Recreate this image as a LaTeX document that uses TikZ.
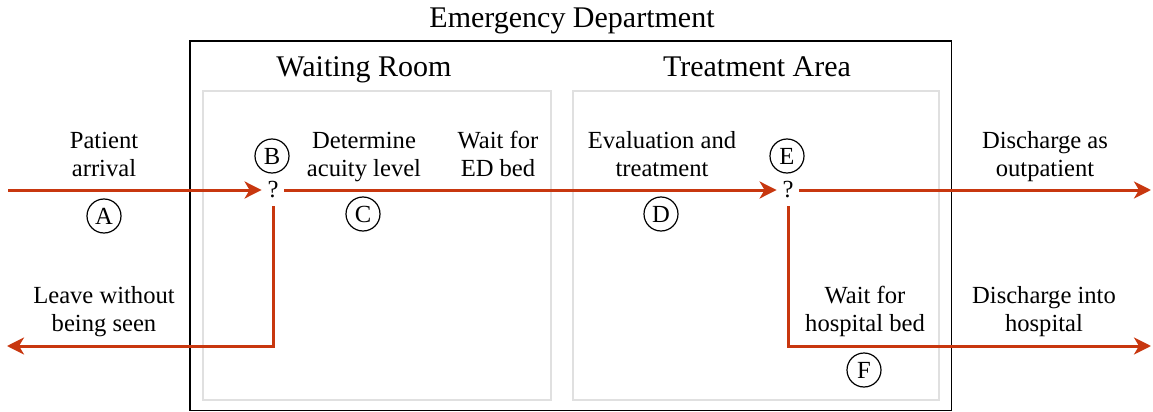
\documentclass[tikz,border=0pt]{standalone}
\usepackage{fontspec}
\setmainfont{Liberation Serif}
\usetikzlibrary{arrows.meta}
\definecolor{flowred}{RGB}{200,55,15}
\definecolor{roomgray}{RGB}{224,224,224}
\begin{document}
\begin{tikzpicture}[x=0.5pt,y=-0.5pt,
  flow/.style={draw=flowred, line width=1.5pt, -{Stealth[length=8.5pt,width=8.5pt,inset=2.5pt]}},
  lbl/.style={align=center, anchor=base, inner sep=0pt, font=\fontsize{12.3}{14}\selectfont},
  head/.style={anchor=base, inner sep=0pt, font=\fontsize{15}{18}\selectfont},
  circ/.style={draw, circle, line width=0.6pt, minimum size=17pt, inner sep=0pt, font=\fontsize{12.3}{14}\selectfont},
  decision/.style={inner sep=0pt, minimum width=11pt, minimum height=16pt, font=\fontsize{12.3}{14}\selectfont},
  outerbox/.style={draw=black, line width=0.8pt},
  roombox/.style={draw=roomgray, line width=1pt}
]
\useasboundingbox (0,0) rectangle (1153,412);

% boxes
\draw[outerbox] (190,41) rectangle (951.5,410.5);
\draw[roombox] (203,90.5) rectangle (550.5,400);
\draw[roombox] (572.5,90.5) rectangle (939,400);

% titles
\node[head] (title) at (572,27) {Emergency Department};
\node[head] (wroom) at (364,76.7) {Waiting Room};
\node[head] (tarea) at (757,76.7) {Treatment Area};

% decision points
\node[decision] (qB) at (273,190) {?};
\node[decision] (qE) at (788,190) {?};

% free ends
\coordinate (arrive) at (8,190);
\coordinate (leaveEnd) at (7,346);
\coordinate (outEnd) at (1151,190);
\coordinate (hospEnd) at (1151,346);

% flows
\draw[flow] (arrive) -- (qB.west);
\draw[flow] (qB.east) -- (qE.west);
\draw[flow] (qE.east) -- (outEnd);
\draw[flow] (qB.south) |- (leaveEnd);
\draw[flow] (qE.south) |- (hospEnd);

% circled letters
\node[circ] (cA) at (104,216) {A};
\node[circ] (cB) at (272,156) {B};
\node[circ] (cC) at (363,214) {C};
\node[circ] (cD) at (661,214) {D};
\node[circ] (cE) at (787,156) {E};
\node[circ] (cF) at (864,370) {F};

% labels (base = baseline of last line)
\node[lbl] (lPatient) at (104,176.7) {Patient\\arrival};
\node[lbl] (lDetermine) at (364,176.7) {Determine\\acuity level};
\node[lbl] (lWaitED) at (498,176.7) {Wait for\\ED bed};
\node[lbl] (lEval) at (662,176.7) {Evaluation and\\treatment};
\node[lbl] (lOut) at (1045,176.7) {Discharge as\\outpatient};
\node[lbl] (lLeave) at (104,331.5) {Leave without\\being seen};
\node[lbl] (lWaitHosp) at (865,331.5) {Wait for\\hospital bed};
\node[lbl] (lHosp) at (1044,331.5) {Discharge into\\hospital};
\end{tikzpicture}
\end{document}
